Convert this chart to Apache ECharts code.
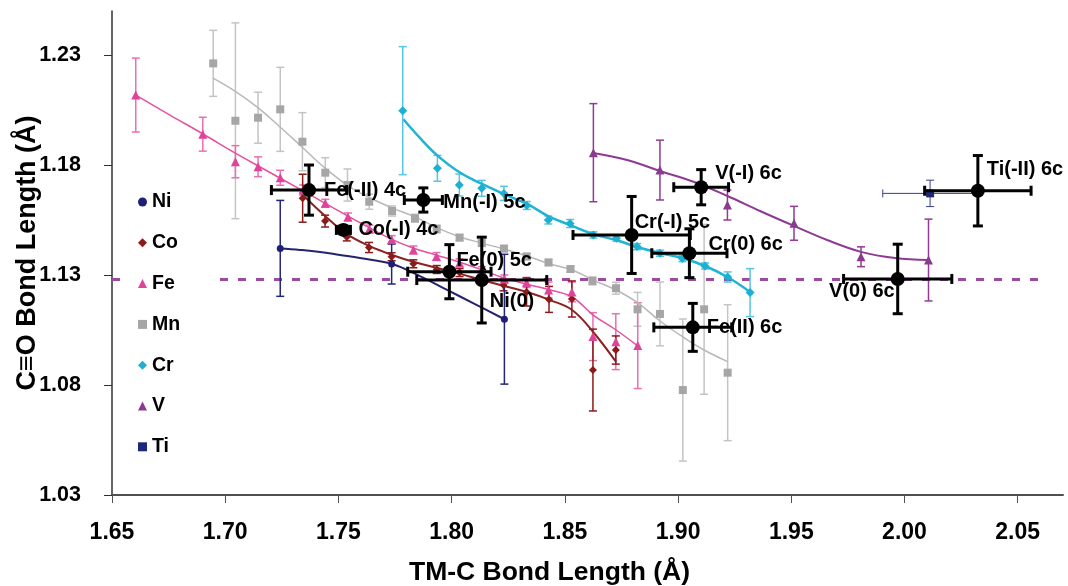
<!DOCTYPE html>
<html>
<head>
<meta charset="utf-8">
<script src="https://cdn.jsdelivr.net/npm/echarts@6/dist/echarts.min.js"></script>
<style>
html,body{margin:0;padding:0;background:#ffffff;}
#chart{width:1068px;height:586px;}
</style>
</head>
<body>
<div id="chart"></div>
<script>
// ---------- data ----------
const xTicks = [1.65, 1.70, 1.75, 1.80, 1.85, 1.90, 1.95, 2.00, 2.05];
const yTicks = [1.03, 1.08, 1.13, 1.18, 1.23];
const freeCO = 1.128;
const freeCOEndX = 2.063;

const niX = [1.7243, 1.7735, 1.8233];
const niY = [1.1421, 1.1350, 1.1099];
const niErr = [0.0218, 0.0091, 0.0295];
const niTrendX = [1.7242, 1.7330, 1.7419, 1.7507, 1.7595, 1.7737, 1.7860, 1.7980, 1.8103, 1.8231];
const niTrendY = [1.1420, 1.1414, 1.1405, 1.1391, 1.1377, 1.1350, 1.1295, 1.1232, 1.1168, 1.1100];

const coX = [1.7342, 1.7441, 1.7537, 1.7635, 1.7735, 1.7831, 1.7934, 1.8035, 1.8133, 1.8229, 1.8331, 1.8430, 1.8531, 1.8624, 1.8725];
const coY = [1.1649, 1.1545, 1.1473, 1.1425, 1.1383, 1.1351, 1.1325, 1.1311, 1.1284, 1.1255, 1.1223, 1.1189, 1.1191, 1.0868, 1.0959];
const coErr = [0.0109, 0.0027, 0.0018, 0.0023, 0.0018, 0.0018, 0.0018, 0.0018, 0.0023, 0.0027, 0.0064, 0.0059, 0.0082, 0.0186, 0.0064];
const coTrendX = [1.7330, 1.7441, 1.7538, 1.7636, 1.7737, 1.7834, 1.7936, 1.8037, 1.8134, 1.8231, 1.8333, 1.8435, 1.8532, 1.8625, 1.8726];
const coTrendY = [1.1677, 1.1568, 1.1486, 1.1432, 1.1391, 1.1359, 1.1332, 1.1305, 1.1277, 1.1250, 1.1223, 1.1186, 1.1141, 1.1041, 1.0905];

const feX = [1.6605, 1.6901, 1.7045, 1.7145, 1.7243, 1.7344, 1.7442, 1.7542, 1.7637, 1.7735, 1.7831, 1.7933, 1.8035, 1.8133, 1.8233, 1.8331, 1.8428, 1.8531, 1.8624, 1.8725, 1.8822];
const feY = [1.2118, 1.1940, 1.1815, 1.1792, 1.1742, 1.1686, 1.1626, 1.1564, 1.1509, 1.1461, 1.1414, 1.1384, 1.1355, 1.1320, 1.1282, 1.1266, 1.1232, 1.1223, 1.1020, 1.0997, 1.0979];
const feErr = [0.0168, 0.0077, 0.0073, 0.0045, 0.0034, 0.0023, 0.0018, 0.0018, 0.0018, 0.0018, 0.0018, 0.0018, 0.0018, 0.0018, 0.0018, 0.0023, 0.0036, 0.0045, 0.0109, 0.0127, 0.0195];
const feTrendX = [1.6605, 1.6756, 1.6902, 1.7043, 1.7154, 1.7344, 1.7542, 1.7732, 1.7829, 1.7931, 1.8033, 1.8134, 1.8231, 1.8329, 1.8435, 1.8532, 1.8625, 1.8726, 1.8823];
const feTrendY = [1.2118, 1.2027, 1.1941, 1.1855, 1.1791, 1.1682, 1.1568, 1.1464, 1.1423, 1.1391, 1.1359, 1.1323, 1.1286, 1.1259, 1.1232, 1.1200, 1.1118, 1.1050, 1.0977];

const mnX = [1.6947, 1.7045, 1.7145, 1.7243, 1.7341, 1.7442, 1.7540, 1.7636, 1.7737, 1.7838, 1.7934, 1.8035, 1.8133, 1.8231, 1.8331, 1.8428, 1.8525, 1.8622, 1.8726, 1.8821, 1.8920, 1.9021, 1.9115, 1.9219];
const mnY = [1.2262, 1.2001, 1.2015, 1.2053, 1.1906, 1.1765, 1.1709, 1.1633, 1.1591, 1.1558, 1.1509, 1.1470, 1.1445, 1.1420, 1.1384, 1.1357, 1.1327, 1.1273, 1.1240, 1.1144, 1.1123, 1.0777, 1.1144, 1.0856];
const mnErr = [0.0150, 0.0445, 0.0116, 0.0191, 0.0132, 0.0068, 0.0073, 0.0034, 0.0023, 0.0018, 0.0018, 0.0014, 0.0014, 0.0014, 0.0014, 0.0014, 0.0014, 0.0018, 0.0027, 0.0077, 0.0145, 0.0323, 0.0386, 0.0309];
const mnTrendX = [1.6946, 1.7043, 1.7140, 1.7242, 1.7339, 1.7441, 1.7551, 1.7640, 1.7737, 1.7838, 1.7936, 1.8037, 1.8134, 1.8231, 1.8333, 1.8435, 1.8532, 1.8625, 1.8726, 1.8823, 1.8920, 1.9022, 1.9115, 1.9221];
const mnTrendY = [1.2195, 1.2136, 1.2064, 1.1973, 1.1882, 1.1786, 1.1700, 1.1650, 1.1605, 1.1564, 1.1514, 1.1473, 1.1445, 1.1418, 1.1386, 1.1350, 1.1323, 1.1277, 1.1232, 1.1173, 1.1091, 1.1018, 1.0959, 1.0905];

const crX = [1.7784, 1.7937, 1.8034, 1.8133, 1.8231, 1.8332, 1.8427, 1.8523, 1.8626, 1.8728, 1.8819, 1.8920, 1.9019, 1.9119, 1.9219, 1.9318];
const crY = [1.2047, 1.1785, 1.1709, 1.1694, 1.1671, 1.1616, 1.1550, 1.1534, 1.1482, 1.1467, 1.1429, 1.1399, 1.1375, 1.1341, 1.1291, 1.1220];
const crErr = [0.0291, 0.0059, 0.0050, 0.0036, 0.0032, 0.0018, 0.0018, 0.0018, 0.0014, 0.0014, 0.0014, 0.0014, 0.0014, 0.0014, 0.0023, 0.0109];
const crTrendX = [1.7787, 1.7860, 1.7935, 1.8033, 1.8134, 1.8231, 1.8333, 1.8426, 1.8523, 1.8625, 1.8726, 1.8819, 1.8920, 1.9017, 1.9119, 1.9218, 1.9318];
const crTrendY = [1.2008, 1.1923, 1.1845, 1.1768, 1.1714, 1.1668, 1.1623, 1.1568, 1.1527, 1.1486, 1.1459, 1.1427, 1.1400, 1.1377, 1.1341, 1.1291, 1.1223];

const vX = [1.8626, 1.8920, 1.9218, 1.9512, 1.9808, 2.0106];
const vY = [1.1856, 1.1777, 1.1618, 1.1535, 1.1383, 1.1368];
const vErr = [0.0223, 0.0136, 0.0068, 0.0077, 0.0045, 0.0186];
const vTrendX = [1.8625, 1.8775, 1.8920, 1.9071, 1.9218, 1.9362, 1.9512, 1.9658, 1.9808, 1.9958, 2.0104];
const vTrendY = [1.1855, 1.1823, 1.1773, 1.1723, 1.1659, 1.1591, 1.1523, 1.1459, 1.1405, 1.1377, 1.1368];

const tiX = [2.0113];
const tiY = [1.1671];
const tiErr = [0.0060];
const tiXErr = [0.0209];

const refNames = ['Fe(-II) 4c', 'Co(-I) 4c', 'Mn(-I) 5c', 'Fe(0) 5c', 'Ni(0)', 'Cr(-I) 5c', 'Cr(0) 6c', 'V(-I) 6c', 'Fe(II) 6c', 'V(0) 6c', 'Ti(-II) 6c'];
const refX = [1.7370, 1.7522, 1.7875, 1.7990, 1.8133, 1.8795, 1.9050, 1.9102, 1.9065, 1.9970, 2.0324];
const refY = [1.1686, 1.1505, 1.1641, 1.1315, 1.1277, 1.1482, 1.1399, 1.1699, 1.1062, 1.1282, 1.1683];
const refXErr = [0.0166, 0.0031, 0.0084, 0.0184, 0.0287, 0.0259, 0.0166, 0.0121, 0.0172, 0.0239, 0.0235];
const refYErr = [0.0114, 0.0018, 0.0055, 0.0123, 0.0195, 0.0175, 0.0111, 0.0080, 0.0109, 0.0158, 0.0160];

// ---------- layout / styles ----------
const FONT = 'Liberation Sans, Arial, Helvetica, sans-serif';
const labelPlace = {
  'Fe(-II) 4c': ['right', 3, 0],
  'Co(-I) 4c': ['right', 3, 0],
  'Mn(-I) 5c': ['right', 8, 3],
  'Fe(0) 5c': ['right', -5, -11],
  'Ni(0)': ['right', -4, 21],
  'Cr(-I) 5c': ['right', -9, -12],
  'Cr(0) 6c': ['right', 7, -9],
  'V(-I) 6c': ['right', 2, -14],
  'Fe(II) 6c': ['right', 2, 0],
  'V(0) 6c': ['left', 9, 13],
  'Ti(-II) 6c': ['right', -3, -21]
};

function pairs(xs, ys) { return xs.map((x, i) => [x, ys[i]]); }
function errData(xs, ys, eys, exs) {
  return xs.map((x, i) => [x, ys[i], eys ? eys[i] : 0, exs ? exs[i] : 0]);
}
function errRender(color, width, cap) {
  return function (params, api) {
    const x = api.value(0), y = api.value(1), ey = api.value(2), ex = api.value(3);
    const st = { stroke: color, lineWidth: width };
    const ch = [];
    const ln = (x1, y1, x2, y2) => ch.push({ type: 'line', shape: { x1, y1, x2, y2 }, style: st });
    if (ey > 0) {
      const t = api.coord([x, y + ey]), b = api.coord([x, y - ey]);
      ln(t[0], t[1], b[0], b[1]);
      ln(t[0] - cap, t[1], t[0] + cap, t[1]);
      ln(b[0] - cap, b[1], b[0] + cap, b[1]);
    }
    if (ex > 0) {
      const l = api.coord([x - ex, y]), r = api.coord([x + ex, y]);
      ln(l[0], l[1], r[0], r[1]);
      ln(l[0], l[1] - cap, l[0], l[1] + cap);
      ln(r[0], r[1] - cap, r[0], r[1] + cap);
    }
    return { type: 'group', children: ch };
  };
}
function errSeries(name, data, color, width, cap, z) {
  return {
    name: name, type: 'custom', silent: true, z: z || 2,
    renderItem: errRender(color, width, cap),
    encode: { x: 0, y: 1 }, data: data
  };
}
function trendSeries(name, xs, ys, color, width) {
  return {
    name: name, type: 'line', data: pairs(xs, ys), smooth: 0.4, symbol: 'none', silent: true,
    lineStyle: { color: color, width: width }, z: 2
  };
}
function pointSeries(name, xs, ys, symbol, size, color) {
  return {
    name: name, type: 'scatter', data: pairs(xs, ys), symbol: symbol, symbolSize: size,
    itemStyle: { color: color, opacity: 1 }, z: 3
  };
}

const series = [
  {
    name: 'free CO', type: 'line', data: [[xTicks[0], freeCO], [freeCOEndX, freeCO]],
    symbol: 'none', silent: true, z: 1,
    lineStyle: { color: '#9B4A9E', width: 3, type: [8, 10] }
  },
  // trend lines
  trendSeries('Mn trend', mnTrendX, mnTrendY, '#B8B8B8', 1.5),
  trendSeries('Fe trend', feTrendX, feTrendY, '#E5509F', 1.5),
  trendSeries('Co trend', coTrendX, coTrendY, '#8B2222', 2),
  trendSeries('Ni trend', niTrendX, niTrendY, '#24246E', 2),
  trendSeries('Cr trend', crTrendX, crTrendY, '#1FB3D6', 2.5),
  trendSeries('V trend', vTrendX, vTrendY, '#8E3A93', 2),
  // error bars
  errSeries('Mn err', errData(mnX, mnY, mnErr), '#C4C4C4', 1.5, 4),
  errSeries('Fe err', errData(feX, feY, feErr), '#EA6FB0', 1.5, 4),
  errSeries('Co err', errData(coX, coY, coErr), '#8B1A1A', 1.5, 4),
  errSeries('Ni err', errData(niX, niY, niErr), '#25257A', 1.5, 4),
  errSeries('Cr err', errData(crX, crY, crErr), '#55C6E0', 1.5, 4),
  errSeries('V err', errData(vX, vY, vErr), '#913A96', 1.5, 4),
  errSeries('Ti err', errData(tiX, tiY, tiErr, tiXErr), '#3A3F8F', 1, 4),
  // points
  pointSeries('Ni', niX, niY, 'circle', 7, '#1F1F78'),
  pointSeries('Co', coX, coY, 'diamond', 8, '#8B1A1A'),
  pointSeries('Fe', feX, feY, 'triangle', 9, '#E0449A'),
  pointSeries('Mn', mnX, mnY, 'rect', 8, '#A6A6A6'),
  pointSeries('Cr', crX, crY, 'diamond', 9, '#1CB0D3'),
  pointSeries('V', vX, vY, 'triangle', 9, '#8A3A8F'),
  pointSeries('Ti', tiX, tiY, 'rect', 8, '#1F2778'),
  // reference (black) points
  errSeries('ref err', errData(refX, refY, refYErr, refXErr), '#000000', 3, 5, 5),
  {
    name: 'ref', type: 'scatter', symbol: 'circle', symbolSize: 14, z: 6,
    itemStyle: { color: '#000000', opacity: 1 },
    label: {
      show: true, formatter: p => p.name, color: '#000000',
      fontFamily: FONT, fontWeight: 'bold', fontSize: 20
    },
    data: refNames.map((n, i) => {
      const pl = labelPlace[n];
      return { name: n, value: [refX[i], refY[i]], label: { position: pl[0], offset: [pl[1], pl[2]] } };
    })
  }
];

const chart = echarts.init(document.getElementById('chart'), null, { renderer: 'canvas' });
chart.setOption({
  animation: false,
  backgroundColor: '#ffffff',
  grid: { left: 112, right: 5, top: 11, bottom: 91, containLabel: false, outerBoundsMode: 'none' },
  legend: {
    orient: 'vertical', left: 126, top: 184,
    padding: [8, 32, 8, 12], backgroundColor: '#ffffff',
    itemWidth: 9, itemHeight: 9, itemGap: 20.8,
    textStyle: { fontFamily: FONT, fontWeight: 'bold', fontSize: 19.5, color: '#000000', lineHeight: 20 },
    data: ['Ni', 'Co', 'Fe', 'Mn', 'Cr', 'V', 'Ti'],
    selectedMode: false
  },
  xAxis: {
    type: 'value', min: 1.65, max: 2.07,
    name: 'TM-C Bond Length (Å)', nameLocation: 'middle', nameGap: 64, nameMoveOverlap: false,
    nameTextStyle: { fontFamily: FONT, fontWeight: 'bold', fontSize: 26.5, color: '#000000', padding: [0, 76, 0, 0] },
    axisLine: { show: true, onZero: false, lineStyle: { color: '#505050', width: 2 } },
    axisTick: { show: true, inside: false, length: 8, customValues: xTicks, lineStyle: { color: '#505050', width: 1 } },
    axisLabel: {
      show: true, margin: 26, customValues: xTicks, formatter: v => v.toFixed(2),
      fontFamily: FONT, fontWeight: 'bold', fontSize: 23, color: '#000000'
    },
    splitLine: { show: false }
  },
  yAxis: {
    type: 'value', min: 1.03, max: 1.25,
    name: 'C≡O Bond Length (Å)', nameLocation: 'middle', nameGap: 71, nameRotate: 90, nameMoveOverlap: false,
    nameTextStyle: { fontFamily: FONT, fontWeight: 'bold', fontSize: 27, color: '#000000' },
    axisLine: { show: true, onZero: false, lineStyle: { color: '#303030', width: 1.5 } },
    axisTick: { show: true, inside: false, length: 8, customValues: yTicks, lineStyle: { color: '#303030', width: 1 } },
    axisLabel: {
      show: true, margin: 31, customValues: yTicks, formatter: v => v.toFixed(2),
      fontFamily: FONT, fontWeight: 'bold', fontSize: 21.5, color: '#000000'
    },
    splitLine: { show: false }
  },
  series: series
});
</script>
</body>
</html>
